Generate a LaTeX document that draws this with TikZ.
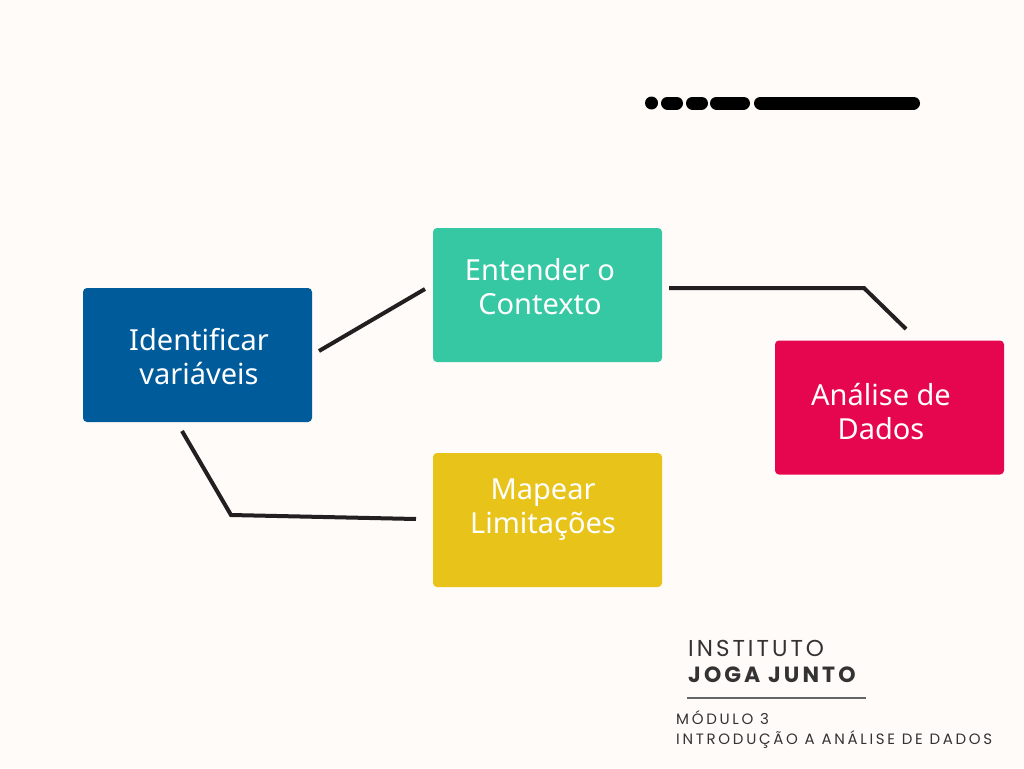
\documentclass[tikz,border=0pt]{standalone}
\usepackage{fontspec}
\setmainfont{Noto Sans}
\newfontfamily\logofontA[LetterSpace=13]{Poppins}
\newfontfamily\logofontB[LetterSpace=14]{Poppins}
\newfontfamily\logofontC[LetterSpace=18]{Poppins}
\definecolor{bg}{HTML}{FFFBF8}
\definecolor{bluebox}{HTML}{005B9B}
\definecolor{greenbox}{HTML}{35C8A2}
\definecolor{pinkbox}{HTML}{E5064F}
\definecolor{yellowbox}{HTML}{E8C31A}
\definecolor{conn}{HTML}{231F20}
\definecolor{logotext}{HTML}{333333}
\tikzset{
  card/.style={rectangle, rounded corners=4pt, minimum width=229pt, minimum height=134pt, inner sep=0pt},
  cardtext/.style={text=white, font=\fontsize{29}{34}\selectfont, align=center, inner sep=0pt, anchor=center},
  link/.style={draw=conn, line width=4pt},
  dashbar/.style={line width=13pt, line cap=round, draw=black},
  logo/.style={text=logotext, anchor=base west, inner sep=0pt}
}
\begin{document}
\begin{tikzpicture}[x=1pt,y=-1pt]
\fill[bg] (0,0) rectangle (1024,768);
\useasboundingbox (0,0) rectangle (1024,768);

% dash bar
\fill[black] (651.5,103) circle (6.5);
\draw[dashbar] (667.5,103) -- (676.5,103);
\draw[dashbar] (692.5,103) -- (701.5,103);
\draw[dashbar] (716.5,103) -- (743.5,103);
\draw[dashbar] (760.5,103) -- (913.5,103);

% cards
\node[card, fill=bluebox] (ident) at (197.5,355) {};
\node[card, fill=greenbox] (ctx) at (547.5,295) {};
\node[card, fill=pinkbox] (anal) at (889.5,407.5) {};
\node[card, fill=yellowbox] (mapa) at (547.5,520) {};

\node[cardtext] (identt) at (199,357) {Identificar\\variáveis};
\node[cardtext] (ctxt) at (540,287) {Entender o\\Contexto};
\node[cardtext] (analt) at (881,412) {Análise de\\Dados};
\node[cardtext] (mapat) at (543,510) {Mapear\\Limitações};

% connectors
\coordinate (c1) at (319,351);
\coordinate (c2) at (425,289);
\draw[link] (c1) -- (c2);
\coordinate (c3) at (669,288);
\coordinate (c4) at (864,288);
\coordinate (c5) at (906,329);
\draw[link] (c3) -- (c4) -- (c5);
\coordinate (c6) at (182,431);
\coordinate (c7) at (231,515);
\coordinate (c8) at (416,519);
\draw[link] (c6) -- (c7) -- (c8);

% logo
\node[logo, font=\logofontA\fontsize{23}{23}\selectfont] (inst) at (688,656) {INSTITUTO};
\node[logo, font=\logofontB\bfseries\fontsize{22}{22}\selectfont] (joga) at (688,682) {JOGA JUNTO};
\coordinate (l1) at (687,698);
\coordinate (l2) at (866,698);
\draw[draw=gray!80!black, line width=1.5pt] (l1) -- (l2);
\node[logo, font=\logofontC\fontsize{15}{15}\selectfont] (mod) at (676,724) {MÓDULO 3};
\node[logo, font=\logofontC\fontsize{15}{15}\selectfont] (intro) at (676,744) {INTRODUÇÃO A ANÁLISE DE DADOS};
\end{tikzpicture}
\end{document}
